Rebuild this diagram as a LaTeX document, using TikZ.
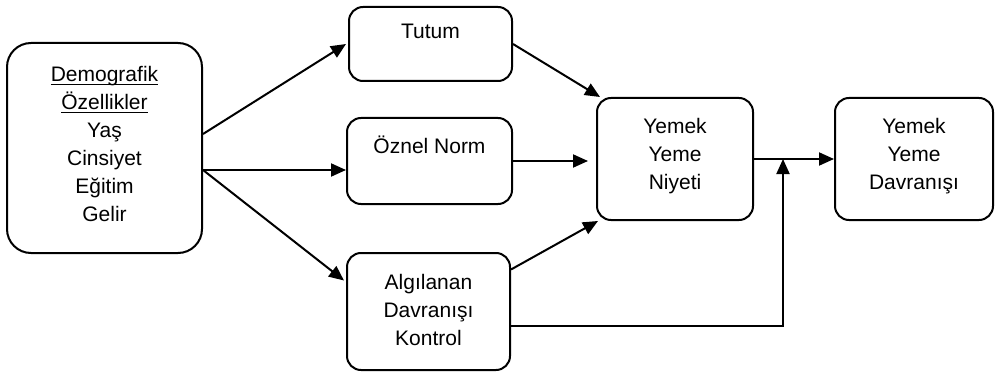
\documentclass[tikz,border=0pt]{standalone}
\usepackage{fontspec}
\setmainfont{Liberation Sans}
\usetikzlibrary{arrows.meta}
\newcommand{\ulword}[1]{\underline{\raisebox{0pt}[\height][0pt]{#1}}}

\begin{document}
\begin{tikzpicture}[x=0.5pt,y=-0.5pt,
        box/.style={draw,line width=1pt,rounded corners=7pt},
        inbox/.style={anchor=north,align=center,inner sep=0pt,font=\fontsize{10.5}{14}\selectfont},
        arr/.style={line width=1pt,-{Triangle[length=7.5pt,width=6.5pt]}}]
            \useasboundingbox (0,0) rectangle (995,374);
            \node[box,rounded corners=12pt,minimum width=97.5pt,minimum height=105pt,
                label={[inbox,yshift=-12pt]north:{\ulword{Demografik}\\\ulword{Özellikler}\\Yaş\\Cinsiyet\\Eğitim\\Gelir}}] (demo) at (104.5,148) {};
            \node[box,minimum width=81.5pt,minimum height=37pt,
                label={[inbox,yshift=-9pt]north:Tutum}] (tutum) at (430.5,44) {};
            \node[box,minimum width=82.5pt,minimum height=43pt,
                label={[inbox,yshift=-9.5pt]north:Öznel Norm}] (norm) at (429.5,161) {};
            \node[box,minimum width=81.5pt,minimum height=58.5pt,
                label={[inbox,yshift=-11pt]north:{Algılanan\\Davranışı\\Kontrol}}] (kontrol) at (428.5,311.5) {};
            \node[box,minimum width=78pt,minimum height=61pt,
                label={[inbox,yshift=-10.5pt]north:{Yemek\\Yeme\\Niyeti}}] (niyet) at (675,159) {};
            \node[box,minimum width=79pt,minimum height=61pt,
                label={[inbox,yshift=-10.5pt]north:{Yemek\\Yeme\\Davranışı}}] (davranis) at (914,159) {};
            \coordinate (split) at ([yshift=-11pt]demo.east);
            \coordinate (join) at (783,159);
            \draw[arr] ([yshift=7pt]demo.east) -- ([xshift=-1pt]tutum.west);
            \draw[arr] (split) -- (split -| norm.west);
            \draw[arr] (split) -- ([xshift=-1pt,yshift=15.5pt]kontrol.west);
            \draw[arr] (tutum.east) -- ([xshift=2pt]niyet.north west);
            \draw[arr,shorten >=4pt] (norm.east) -- (norm.east -| niyet.west);
            \draw[arr] ([yshift=21pt]kontrol.east) -- ([xshift=1pt]niyet.south west);
            \draw[arr] ([yshift=-7pt]kontrol.east) -| (join);
            \draw[arr] (niyet.east) -- (davranis.west);
        \end{tikzpicture}
\end{document}
